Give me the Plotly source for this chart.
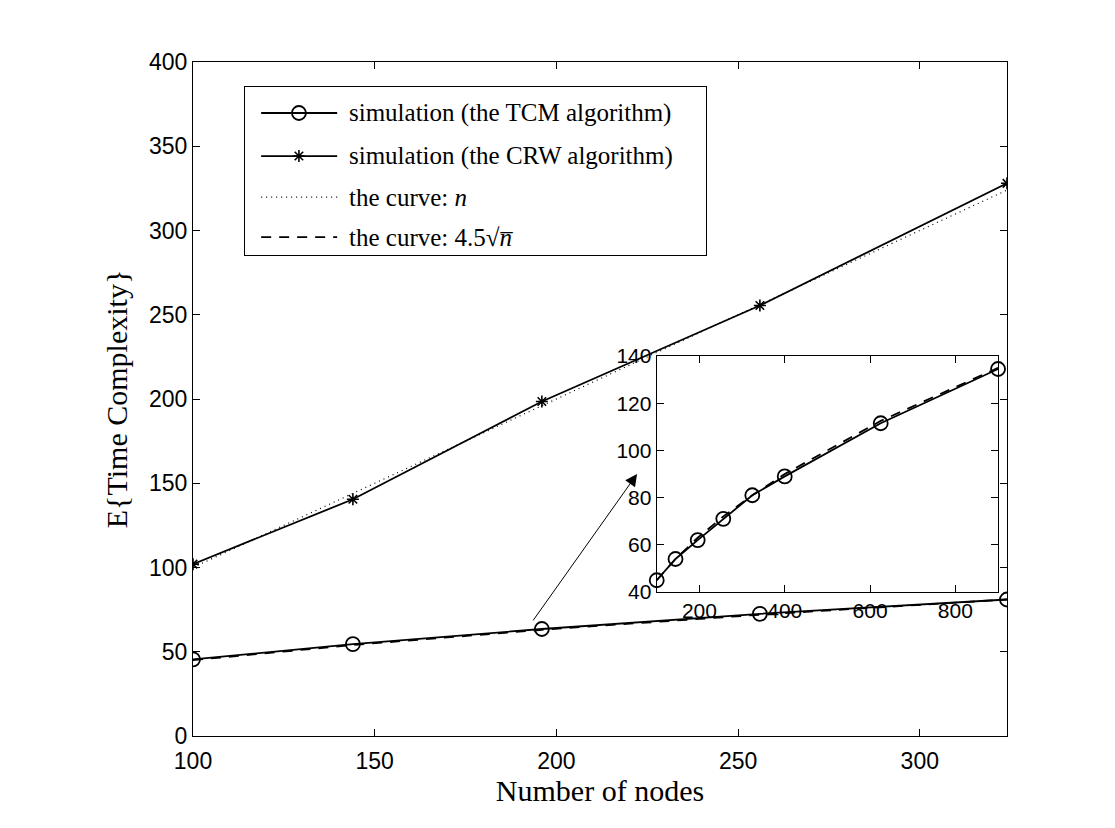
import plotly.graph_objects as go

# ---------------- data ----------------
n_main = [100, 144, 196, 256, 324]
crw_main = [102, 140.5, 198.5, 255.5, 328]
tcm_main = [45.5, 54.5, 63.5, 72.5, 81]
curve_n = [100, 144, 196, 256, 324]
curve_sqrt = [45, 54, 63, 72, 81]

n_inset = [100, 144, 196, 256, 324, 400, 625, 900]
tcm_inset = [45, 54, 62, 71, 81, 89, 111.5, 134.5]
sqrt_inset = [45, 54, 63, 72, 81, 90, 112.5, 135]

main_xticks = [100, 150, 200, 250, 300]
main_yticks = [0, 50, 100, 150, 200, 250, 300, 350, 400]
inset_xticks = [200, 400, 600, 800]
inset_yticks = [40, 60, 80, 100, 120, 140]

legend_labels = [
    "simulation (the TCM algorithm)",
    "simulation (the CRW algorithm)",
    "the curve: <i>n</i>",
    "the curve: 4.5√<i>n̅</i>",
]

# ---------------- styles ----------------
BLACK = "#000000"
SERIF = "Liberation Serif"
SANS = "Liberation Sans"
W, H = 1115, 828
L, R, T, B = 193, 108, 62, 92

solid = dict(color=BLACK, width=1.8)
dotted = dict(color=BLACK, width=1.2, dash="1px,4px")
dashed = dict(color=BLACK, width=1.8, dash="10px,8px")
circ = dict(symbol="circle-open", size=14, color=BLACK, line=dict(width=1.8, color=BLACK))
star = dict(symbol="asterisk-open", size=10, color=BLACK, line=dict(width=1.6, color=BLACK))

fig = go.Figure()

# main axes
fig.add_trace(go.Scatter(x=n_main, y=curve_n, mode="lines", line=dotted, xaxis="x", yaxis="y"))
fig.add_trace(go.Scatter(x=n_main, y=curve_sqrt, mode="lines", line=dashed, xaxis="x", yaxis="y"))
fig.add_trace(go.Scatter(x=n_main, y=crw_main, mode="lines+markers", line=solid, marker=star,
                         xaxis="x", yaxis="y"))
fig.add_trace(go.Scatter(x=n_main, y=tcm_main, mode="lines+markers", line=solid, marker=circ,
                         xaxis="x", yaxis="y"))

# inset axes
fig.add_trace(go.Scatter(x=n_inset, y=sqrt_inset, mode="lines", line=dashed, xaxis="x2", yaxis="y2"))
fig.add_trace(go.Scatter(x=n_inset, y=tcm_inset, mode="lines+markers", line=solid, marker=circ,
                         xaxis="x2", yaxis="y2", cliponaxis=False))

# legend (drawn in its own small axes so sample lines can be long like MATLAB's)
rows = [0.845, 0.589, 0.345, 0.107]
seg = [0.035, 0.2]
mid = 0.117
styles = [(solid, circ), (solid, star), (dotted, None), (dashed, None)]
for r, (ln, mk) in zip(rows, styles):
    fig.add_trace(go.Scatter(x=seg, y=[r, r], mode="lines", line=ln, xaxis="x3", yaxis="y3"))
    if mk is not None:
        fig.add_trace(go.Scatter(x=[mid], y=[r], mode="markers", marker=mk, xaxis="x3", yaxis="y3"))

annotations = []
for r, lab in zip(rows, legend_labels):
    annotations.append(dict(x=0.222, y=r, xref="x3", yref="y3", text=lab, showarrow=False,
                            xanchor="left", yanchor="middle",
                            font=dict(family=SERIF, size=25, color=BLACK)))

# arrow pointing from main TCM curve to inset
annotations.append(dict(x=222.2, y=155.5, ax=193.3, ay=67.7, xref="x", yref="y", axref="x", ayref="y",
                        text="", showarrow=True, arrowhead=2, arrowsize=2.4, arrowwidth=1,
                        arrowcolor=BLACK, standoff=0))

axis_common = dict(showline=True, linecolor=BLACK, linewidth=1.2, mirror="ticks", ticks="inside",
                   ticklen=7, tickwidth=1, tickcolor=BLACK, showgrid=False, zeroline=False,
                   tickfont=dict(family=SANS, size=23, color=BLACK))

fig.update_layout(
    width=W, height=H,
    margin=dict(l=L, r=R, t=T, b=B, pad=0),
    paper_bgcolor="white", plot_bgcolor="white",
    showlegend=False,
    xaxis=dict(axis_common, domain=[0, 1], range=[100, 324], tickvals=main_xticks,
               ticklabelstandoff=4,
               title=dict(text="Number of nodes", font=dict(family=SERIF, size=30, color=BLACK),
                          standoff=2)),
    yaxis=dict(axis_common, domain=[0, 1], range=[0, 400], tickvals=main_yticks,
               title=dict(text="E{Time Complexity}", font=dict(family=SERIF, size=30, color=BLACK),
                          standoff=12)),
    xaxis2=dict(axis_common, domain=[0.5697, 0.989], range=[100, 900], tickvals=inset_xticks,
                anchor="y2", tickfont=dict(family=SANS, size=21, color=BLACK)),
    yaxis2=dict(axis_common, domain=[0.2136, 0.5638], range=[40, 140], tickvals=inset_yticks,
                anchor="x2", tickfont=dict(family=SANS, size=21, color=BLACK)),
    xaxis3=dict(domain=[0.0639, 0.630], range=[0, 1], anchor="y3", showline=True, mirror=True,
                linecolor=BLACK, linewidth=1.2, ticks="", showticklabels=False, showgrid=False,
                zeroline=False, fixedrange=True),
    yaxis3=dict(domain=[0.7136, 0.963], range=[0, 1], anchor="x3", showline=True, mirror=True,
                linecolor=BLACK, linewidth=1.2, ticks="", showticklabels=False, showgrid=False,
                zeroline=False, fixedrange=True),
    annotations=annotations,
)

fig.write_html("out.html")
